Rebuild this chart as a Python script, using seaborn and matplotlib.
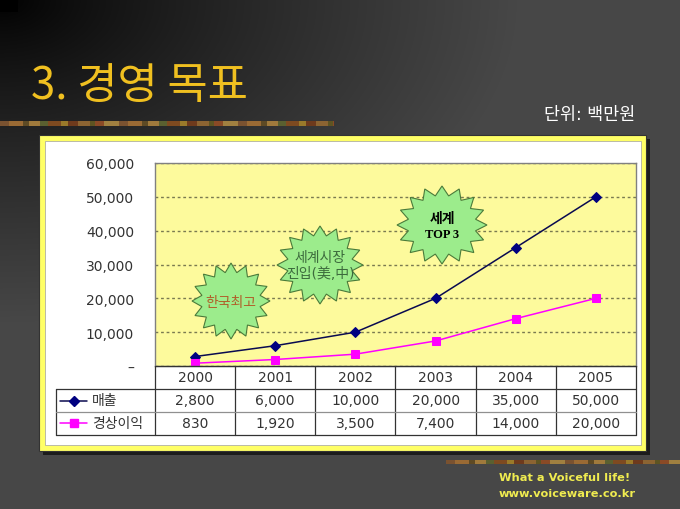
import numpy as np
import pandas as pd
import matplotlib
matplotlib.use('Agg')
import matplotlib.pyplot as plt
import seaborn as sns
from matplotlib.patches import Rectangle, Polygon

# ---------------- data ----------------
years = ['2000', '2001', '2002', '2003', '2004', '2005']
sales = [2800, 6000, 10000, 20000, 35000, 50000]
profit = [830, 1920, 3500, 7400, 14000, 20000]
series_names = ['매출', '경상이익']
yticks = [0, 10000, 20000, 30000, 40000, 50000, 60000]
title_text = '3. 경영 목표'
unit_text = '단위: 백만원'
callout1 = '한국최고'
callout2 = ['세계시장', '진입(美,中)']
callout3 = ['세계', 'TOP 3']
footer_lines = ['What a Voiceful life!', 'www.voiceware.co.kr']

sns.set_theme(style='white')
plt.rcParams['font.family'] = ['DejaVu Sans', 'Noto Sans CJK KR']

W, H = 680, 510
fig = plt.figure(figsize=(6.8, 5.1), dpi=100)


def rect(x0, y0, x1, y1):
    return [x0 / W, 1 - y1 / H, (x1 - x0) / W, (y1 - y0) / H]


# ---------------- background ----------------
bg = fig.add_axes([0, 0, 1, 1])
bg.set_axis_off()
yy, xx = np.mgrid[0:H, 0:W]
d = np.sqrt(xx ** 2 + (yy * 1.6) ** 2)
v = np.clip(d / 520.0, 0, 1) ** 0.8 * 0.28
bg.imshow(np.dstack([v, v, v]), extent=[0, W, H, 0], aspect='auto', interpolation='bilinear')
bg.set_xlim(0, W)
bg.set_ylim(H, 0)
bg.add_patch(Rectangle((0, 0), 18, 13, fc='black', ec='none'))

strip_cols = ['#7a5230', '#9a6a34', '#5e4a24', '#a07a3c', '#5a6030', '#7e4a20',
              '#9a7a2a', '#6e3a1c', '#8c6432', '#5e5422', '#8a4a26', '#a08040']
strip_w = [9, 14, 6, 11, 8, 13, 7, 10, 12, 5, 9, 15]


def deco(x0, x1, y0, h):
    x = x0
    i = 0
    while x < x1:
        w = min(strip_w[i % len(strip_w)], x1 - x)
        bg.add_patch(Rectangle((x, y0), w, h, fc=strip_cols[i % len(strip_cols)], ec='none'))
        x += w
        i += 1


deco(0, 334, 122, 5)
deco(446, 680, 461, 4)

bg.text(31, 86, title_text, color='#f0c020', fontsize=31.5, va='center', ha='left',
        family=['Noto Sans CJK KR', 'DejaVu Sans'], fontweight='light')
bg.text(635, 115, unit_text, color='white', fontsize=12.5, va='center', ha='right')
bg.text(499, 478, footer_lines[0], color='#f0ec50', fontsize=8.2, fontweight='bold',
        va='center', ha='left')
bg.text(499, 494, footer_lines[1], color='#f0ec50', fontsize=8.2, fontweight='bold',
        va='center', ha='left')

# frame
bg.add_patch(Rectangle((43, 140), 607, 316, fc='#1c1c1c', ec='none'))
bg.add_patch(Rectangle((39, 136), 607, 316, fc='#ffff66', ec='#333333', lw=0.8))
bg.add_patch(Rectangle((45, 142), 596, 304, fc='white', ec='#a0a0a0', lw=0.5))

# ---------------- main chart ----------------
ax = fig.add_axes(rect(155, 164, 636, 367))
idx = list(range(len(years)))
df = pd.DataFrame({'idx': idx, 'sales': sales, 'profit': profit})
sns.lineplot(data=df, x='idx', y='sales', ax=ax, color='#0a0a50', linewidth=1.1,
             marker='D', markersize=5, markerfacecolor='#000080', markeredgecolor='#000080')
sns.lineplot(data=df, x='idx', y='profit', ax=ax, color='#ff00ff', linewidth=1.1,
             marker='s', markersize=6, markerfacecolor='#ff00ff', markeredgecolor='#ff00ff')
ax.set_xlim(-0.5, len(years) - 0.5)
ax.set_ylim(yticks[0], yticks[-1])
ax.set_facecolor('#fdfa9c')
ax.set_xticks([])
ax.set_yticks(yticks)
ax.set_yticklabels(['–' if t == 0 else f'{t:,}' for t in yticks])
ax.tick_params(axis='y', length=0, pad=15, labelsize=10, labelcolor='#333333')
ax.set_xlabel('')
ax.set_ylabel('')
ax.grid(axis='y', color='#7a7a50', linestyle=(0, (2, 2)), linewidth=1)
ax.set_axisbelow(True)
for s in ax.spines.values():
    s.set_color('#808080')
    s.set_linewidth(1)

# ---------------- data table ----------------
tab = fig.add_axes(rect(155, 367, 636, 436))
tab.set_axis_off()
tab.set_xlim(-0.5, len(years) - 0.5)
tab.set_ylim(3, 0)
colw = 481 / len(years)
x_left = -0.5 - (155 - 56) / colw
lc = '#333333'
for i, yr in enumerate(years):
    tab.text(i, 0.5, yr, ha='center', va='center', fontsize=10, color='#333333')
    tab.text(i, 1.5, f'{sales[i]:,}', ha='center', va='center', fontsize=10, color='#333333')
    tab.text(i, 2.5, f'{profit[i]:,}', ha='center', va='center', fontsize=10, color='#333333')
for xv in np.arange(-0.5, len(years), 1.0):
    tab.plot([xv, xv], [0, 3], color=lc, lw=0.9, clip_on=False)
tab.plot([x_left, x_left], [1, 3], color=lc, lw=0.9, clip_on=False)
tab.plot([-0.5, 5.5], [0, 0], color=lc, lw=0.9, clip_on=False)
tab.plot([x_left, 5.5], [1, 1], color=lc, lw=0.9, clip_on=False)
tab.plot([x_left, 5.5], [2, 2], color='#909090', lw=0.9, clip_on=False)
tab.plot([x_left, 5.5], [3, 3], color=lc, lw=0.9, clip_on=False)

g0 = -0.5 - 95 / colw
g1 = -0.5 - 68 / colw
gm = -0.5 - 81 / colw
gt = -0.5 - 63 / colw
tab.plot([g0, g1], [1.5, 1.5], color='#0a0a50', lw=1.1, clip_on=False)
tab.plot([gm], [1.5], marker='D', markersize=5, color='#000080', clip_on=False)
tab.plot([g0, g1], [2.5, 2.5], color='#ff00ff', lw=1.1, clip_on=False)
tab.plot([gm], [2.5], marker='s', markersize=6, color='#ff00ff', clip_on=False)
tab.text(gt, 1.5, series_names[0], ha='left', va='center', fontsize=10, color='#333333')
tab.text(gt, 2.5, series_names[1], ha='left', va='center', fontsize=10, color='#333333')

# ---------------- callouts ----------------
ov = fig.add_axes([0, 0, 1, 1])
ov.set_axis_off()
ov.set_xlim(0, W)
ov.set_ylim(H, 0)
ov.patch.set_alpha(0)


def star(cx, cy, rx, ry, n=16, ratio=0.76):
    pts = []
    for k in range(2 * n):
        a = -np.pi / 2 + k * np.pi / n
        r = 1.0 if k % 2 == 0 else ratio
        pts.append((cx + rx * r * np.cos(a), cy + ry * r * np.sin(a)))
    ov.add_patch(Polygon(pts, closed=True, fc='#9cec8c', ec='#4a7a3a', lw=0.8))


star(231, 302, 39, 38)
star(320, 266, 43, 39)
star(442, 226, 45, 39)
ov.text(231, 303, callout1, ha='center', va='center', fontsize=10, color='#b0602a')
ov.text(320, 258, callout2[0], ha='center', va='center', fontsize=10, color='#3c6a3c')
ov.text(320, 274, callout2[1], ha='center', va='center', fontsize=10, color='#3c6a3c')
ov.text(442, 219, callout3[0], ha='center', va='center', fontsize=10, color='black',
        fontweight='bold')
ov.text(442, 235, callout3[1], ha='center', va='center', fontsize=9, color='black',
        fontweight='bold', family=['Liberation Serif', 'DejaVu Serif'])

fig.savefig('out.png', dpi=100)
